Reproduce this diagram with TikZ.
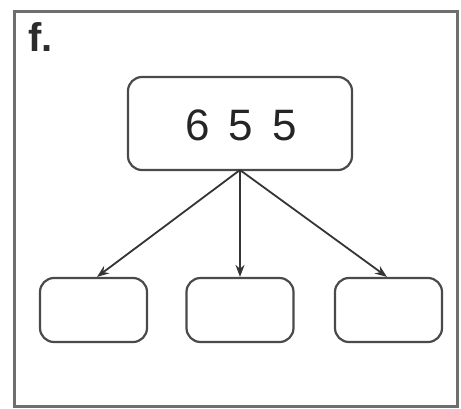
\documentclass[tikz,border=0pt]{standalone}
\usepackage{fontspec}
\setmainfont{Liberation Sans}
\usetikzlibrary{arrows.meta}
\definecolor{edge}{HTML}{4A4A4A}
\begin{document}
\begin{tikzpicture}[x=1pt,y=-1pt,
  box/.style={draw=edge,line width=2.2pt,rounded corners=14pt,inner sep=0pt},
  link/.style={draw=edge!70!black,line width=1.8pt,-{Stealth[length=12pt,width=9pt]}}]
\useasboundingbox (0,0) rectangle (461,408);
\fill[white] (0,0) rectangle (461,408);
\draw[edge!80,line width=3pt] (14,11) rectangle (457,406);
\node[anchor=north west,inner sep=0pt,font=\bfseries\fontsize{40}{42}\selectfont,text=edge!60!black] (lab) at (28,22) {f.};
\node[box,minimum width=224pt,minimum height=93pt] (top) at (240,123.5) {};
\node[font=\fontsize{44}{46}\selectfont,text=edge!50!black] (num) at (241,125) {6\hspace{19pt}5\hspace{19pt}5};
\node[box,minimum width=107pt,minimum height=64pt] (b1) at (93.5,310) {};
\node[box,minimum width=107pt,minimum height=64pt] (b2) at (240,310) {};
\node[box,minimum width=107pt,minimum height=64pt] (b3) at (388.5,310) {};
\coordinate (src) at (240,170);
\path[link] (src) -- (b1.north -| 97,0);
\path[link] (src) -- (b2.north);
\path[link] (src) -- (b3.north -| 387,0);
\end{tikzpicture}
\end{document}
